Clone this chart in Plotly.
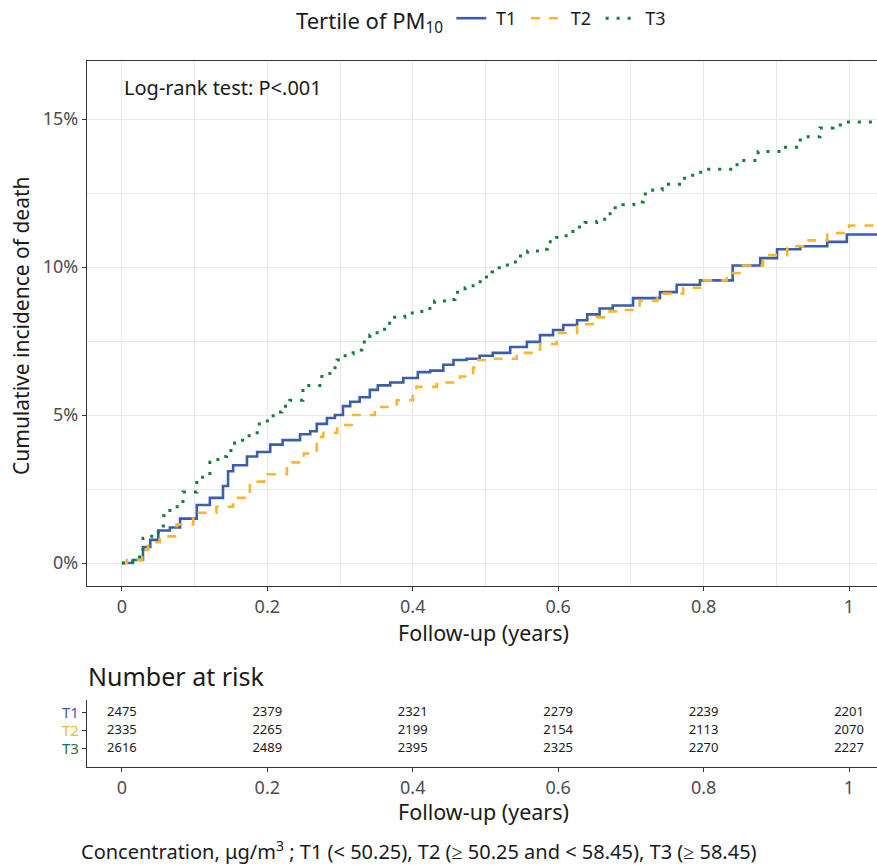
import plotly.graph_objects as go

# ---------------- data ----------------
t1_time = [0, 0.015, 0.029, 0.039, 0.05, 0.066, 0.08, 0.103, 0.121, 0.139, 0.146, 0.153, 0.172, 0.186,
           0.204, 0.221, 0.245, 0.259, 0.268, 0.282, 0.293, 0.304, 0.314, 0.327, 0.341, 0.352, 0.369,
           0.387, 0.407, 0.424, 0.442, 0.456, 0.474, 0.492, 0.51, 0.534, 0.557, 0.575, 0.593, 0.607,
           0.626, 0.64, 0.657, 0.675, 0.703, 0.74, 0.763, 0.795, 0.84, 0.878, 0.901, 0.933, 0.97, 0.997, 1.04]
t1_inc = [0, 0.1, 0.54, 0.78, 1.1, 1.2, 1.5, 1.96, 2.2, 2.6, 3.1, 3.3, 3.6, 3.75,
          4.0, 4.15, 4.35, 4.45, 4.7, 4.9, 5.0, 5.3, 5.45, 5.6, 5.85, 6.0, 6.1,
          6.25, 6.45, 6.5, 6.7, 6.86, 6.9, 7.0, 7.1, 7.3, 7.47, 7.7, 7.87, 8.04,
          8.2, 8.4, 8.6, 8.7, 8.95, 9.15, 9.4, 9.55, 10.05, 10.3, 10.6, 10.7, 10.85, 11.1, 11.1]

t2_time = [0, 0.007, 0.028, 0.036, 0.052, 0.075, 0.098, 0.13, 0.153, 0.176, 0.2, 0.227, 0.25, 0.268,
           0.277, 0.296, 0.316, 0.348, 0.378, 0.4, 0.405, 0.433, 0.465, 0.483, 0.49, 0.51, 0.543,
           0.575, 0.598, 0.626, 0.653, 0.665, 0.685, 0.712, 0.736, 0.772, 0.8, 0.832, 0.854, 0.882,
           0.915, 0.942, 0.97, 1.0, 1.04]
t2_inc = [0, 0.1, 0.44, 0.7, 0.9, 1.3, 1.7, 1.9, 2.2, 2.75, 3.0, 3.4, 3.7, 4.26,
          4.4, 4.66, 5.0, 5.27, 5.5, 5.78, 5.95, 6.1, 6.3, 6.6, 6.86, 6.9, 7.1,
          7.4, 7.77, 8.07, 8.3, 8.5, 8.55, 8.85, 9.1, 9.3, 9.55, 9.8, 10.05, 10.4,
          10.7, 10.9, 11.15, 11.4, 11.5]

t3_time = [0, 0.015, 0.029, 0.041, 0.057, 0.066, 0.084, 0.103, 0.121, 0.132, 0.144, 0.155, 0.166,
           0.186, 0.2, 0.208, 0.22, 0.231, 0.249, 0.275, 0.286, 0.296, 0.307, 0.318, 0.33, 0.341,
           0.351, 0.364, 0.375, 0.389, 0.405, 0.42, 0.43, 0.447, 0.458, 0.472, 0.483, 0.497, 0.509,
           0.519, 0.534, 0.546, 0.558, 0.575, 0.585, 0.598, 0.611, 0.623, 0.637, 0.653, 0.664, 0.675,
           0.689, 0.704, 0.717, 0.73, 0.743, 0.77, 0.785, 0.8, 0.846, 0.875, 0.906, 0.933, 0.96,
           0.978, 0.992, 1.04]
t3_inc = [0, 0.2, 0.84, 1.05, 1.6, 1.9, 2.4, 2.9, 3.4, 3.6, 3.8, 4.05, 4.3,
          4.7, 4.9, 5.1, 5.3, 5.5, 6.0, 6.4, 6.6, 6.86, 7.06, 7.2, 7.47, 7.7,
          7.9, 8.1, 8.3, 8.45, 8.5, 8.6, 8.85, 8.9, 9.15, 9.3, 9.5, 9.66, 9.83,
          10.07, 10.17, 10.37, 10.54, 10.6, 10.85, 11.0, 11.2, 11.35, 11.5, 11.55, 11.8, 12.0,
          12.1, 12.2, 12.47, 12.6, 12.8, 13.0, 13.2, 13.3, 13.6, 13.9, 14.05, 14.4, 14.7,
          14.8, 14.9, 14.9]

groups = ["T1", "T2", "T3"]
risk_times = [0, 0.2, 0.4, 0.6, 0.8, 1.0]
risk_t1 = [2475, 2379, 2321, 2279, 2239, 2201]
risk_t2 = [2335, 2265, 2199, 2154, 2113, 2070]
risk_t3 = [2616, 2489, 2395, 2325, 2270, 2227]

x_ticks = [0, 0.2, 0.4, 0.6, 0.8, 1.0]
x_ticktext = ["0", "0.2", "0.4", "0.6", "0.8", "1"]
y_ticks = [0, 0.05, 0.10, 0.15]
y_ticktext = ["0%", "5%", "10%", "15%"]

# ---------------- style ----------------
W, H = 877, 865
FONT = "Noto Sans"
C1, C2, C3 = "#3C5DA8", "#F4B731", "#167A3C"
TICKC = "#4d4d4d"
GRID = "#e9e9e9"
NB = "\u00a0"

def px_x(p):
    return p / W

def px_y(p):
    return 1 - p / H

XR = [-0.048, 1.0385]

fig = go.Figure()

fig.add_trace(go.Scatter(x=t1_time, y=[v / 100 for v in t1_inc], mode="lines",
                         name=NB + groups[0] + NB,
                         line=dict(color=C1, width=2.6, shape="hv")))
fig.add_trace(go.Scatter(x=t2_time, y=[v / 100 for v in t2_inc], mode="lines",
                         name=NB + groups[1] + NB,
                         line=dict(color=C2, width=2.6, shape="hv", dash="9px,9px")))
fig.add_trace(go.Scatter(x=t3_time, y=[v / 100 for v in t3_inc], mode="lines",
                         name=NB + groups[2] + NB,
                         line=dict(color=C3, width=3, shape="hv", dash="3px,8px")))

# risk table
for vals, yv in zip([risk_t1, risk_t2, risk_t3], [3, 2, 1]):
    fig.add_trace(go.Scatter(x=risk_times, y=[yv] * len(risk_times), mode="text",
                             text=[str(v) for v in vals], textposition="middle center",
                             textfont=dict(family=FONT, size=13, color="#1a1a1a"),
                             showlegend=False, xaxis="x2", yaxis="y2", hoverinfo="skip"))

axis_common = dict(ticks="outside", ticklen=4, tickwidth=1.1, tickcolor="#333333",
                   showline=True, linecolor="#333333", linewidth=1.3, zeroline=False)
tickfont_main = dict(family=FONT, size=18, color=TICKC)

fig.update_layout(
    width=W, height=H,
    margin=dict(l=0, r=0, t=0, b=0),
    paper_bgcolor="white", plot_bgcolor="white",
    font=dict(family=FONT, color="#1a1a1a"),
    xaxis=dict(domain=[px_x(87), 1], range=XR, tickvals=x_ticks, ticktext=x_ticktext,
               showgrid=True, gridcolor=GRID, gridwidth=1.4, mirror=True, tickfont=tickfont_main,
               minor=dict(tickvals=[0.1, 0.3, 0.5, 0.7, 0.9], showgrid=True, gridcolor=GRID,
                          gridwidth=1.1, ticks=""),
               anchor="y", **axis_common),
    yaxis=dict(domain=[px_y(586), px_y(61)], range=[-0.00777, 0.1696], tickvals=y_ticks,
               ticktext=y_ticktext, showgrid=True, gridcolor=GRID, gridwidth=1.4,
               tickfont=tickfont_main,
               minor=dict(tickvals=[0.025, 0.075, 0.125], showgrid=True, gridcolor=GRID,
                          gridwidth=1.1, ticks=""),
               anchor="x", **axis_common),
    xaxis2=dict(domain=[px_x(87), 1], range=XR, tickvals=x_ticks, ticktext=x_ticktext,
                showgrid=False, anchor="y2", tickfont=tickfont_main, **axis_common),
    yaxis2=dict(domain=[px_y(767), px_y(700)], range=[0, 3.72], tickvals=[3, 2, 1],
                ticktext=[f'<span style="color:{C1}">T1</span>',
                          f'<span style="color:{C2}">T2</span>',
                          f'<span style="color:{C3}">T3</span>'],
                tickfont=dict(family=FONT, size=15, color=TICKC),
                showgrid=False, anchor="x2", **axis_common),
    legend=dict(orientation="h", x=px_x(294), xanchor="left", y=px_y(0), yanchor="top",
                title=dict(text="Tertile of PM<sub>10</sub>", side="left",
                           font=dict(family=FONT, size=22, color="#1a1a1a")),
                font=dict(family=FONT, size=18, color="#1a1a1a"),
                bgcolor="rgba(0,0,0,0)", itemwidth=30, tracegroupgap=0),
    showlegend=True,
)

ann = [
    dict(text="Log-rank test: P<.001", x=px_x(122), y=px_y(88), xanchor="left", yanchor="middle",
         font=dict(size=20)),
    dict(text="Cumulative incidence of death", x=px_x(21), y=px_y(326), textangle=-90,
         xanchor="center", yanchor="middle", font=dict(size=21)),
    dict(text="Follow-up (years)", x=px_x(484), y=px_y(632), xanchor="center", yanchor="middle",
         font=dict(size=21.5)),
    dict(text="Number at risk", x=px_x(86), y=px_y(676), xanchor="left", yanchor="middle",
         font=dict(size=25)),
    dict(text="Follow-up (years)", x=px_x(484), y=px_y(811), xanchor="center", yanchor="middle",
         font=dict(size=21.5)),
    dict(text="Concentration, μg/m<sup>3</sup> ; T1 (< 50.25), T2 (≥ 50.25 and < 58.45), T3 (≥ 58.45)",
         x=px_x(79), y=px_y(850), xanchor="left", yanchor="middle", font=dict(size=20)),
]
for a in ann:
    a.update(xref="paper", yref="paper", showarrow=False)
    a["font"] = dict(family=FONT, color="#1a1a1a", **a["font"])
fig.update_layout(annotations=ann)

fig.write_html("out.html")
